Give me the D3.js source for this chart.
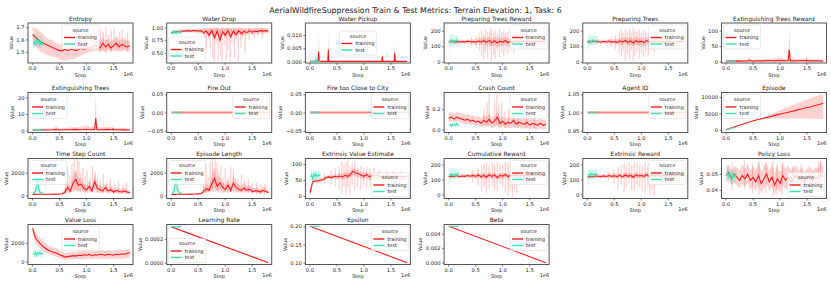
<!DOCTYPE html>
<meta charset="utf-8">
<script src="https://d3js.org/d3.v7.min.js"></script>
<style>
body { margin: 0; background: #fff; }
text { font-family: "DejaVu Sans", sans-serif; fill: #222; }
.tick line { stroke: #333; stroke-width: 0.6; }
</style>
<body>
<script>
// training steps (millions) shared by most panels
var steps = [0.01,0.06,0.11,0.16,0.21,0.26,0.31,0.36,0.41,0.46,0.51,0.56,0.61,0.66,0.71,0.76,0.81,0.86,0.91,0.96,1.01,1.06,1.11,1.16,1.21,1.26,1.31,1.36,1.41,1.46,1.51,1.56,1.61,1.66,1.71,1.76,1.81];
var testSteps = [0.02,0.04,0.06,0.08,0.10,0.12,0.14,0.16,0.18,0.20];
var fullSpan = [0.01, 1.81];
var testSpan = [0.02, 0.20];

// Entropy
var entropyMean = [1.64,1.62,1.60,1.58,1.57,1.56,1.55,1.54,1.53,1.52,1.51,1.51,1.52,1.51,1.52,1.52,1.51,1.52,1.53,1.52,1.53,1.53,1.54,1.55,1.55,1.53,1.57,1.54,1.56,1.53,1.55,1.57,1.54,1.56,1.55,1.54,1.55];
var entropyLo = [1.58,1.55,1.52,1.50,1.49,1.48,1.47,1.46,1.46,1.45,1.44,1.43,1.43,1.43,1.44,1.44,1.45,1.46,1.47,1.48,1.49,1.50,1.50,1.51,1.51,1.50,1.51,1.50,1.52,1.50,1.51,1.52,1.50,1.51,1.52,1.50,1.51];
var entropyHi = [1.70,1.69,1.68,1.66,1.64,1.62,1.60,1.60,1.58,1.57,1.56,1.57,1.58,1.57,1.58,1.59,1.58,1.59,1.60,1.61,1.60,1.61,1.60,1.60,1.61,1.59,1.62,1.59,1.61,1.58,1.60,1.62,1.59,1.61,1.60,1.59,1.60];
var entropyTest = [1.56,1.58,1.55,1.60,1.57,1.59,1.55,1.58,1.56,1.57];
var entropyTestLo = [1.53,1.54,1.52,1.55,1.53,1.55,1.52,1.54,1.53,1.54];
var entropyTestHi = [1.62,1.65,1.60,1.66,1.63,1.64,1.60,1.63,1.62,1.61];
var entropySpikeSteps = [1.27,1.32,1.37,1.42,1.47,1.52,1.57,1.62,1.67,1.72,1.77];
var entropySpikeLo = [1.50,1.51,1.49,1.52,1.50,1.51,1.50,1.52,1.50,1.51,1.50];
var entropySpikeHi = [1.68,1.66,1.70,1.64,1.67,1.69,1.63,1.66,1.68,1.62,1.65];

// Water Drop
var dropMean = [0.90,0.91,0.92,0.92,0.93,0.93,0.94,0.93,0.94,0.94,0.93,0.94,0.90,0.93,0.85,0.94,0.80,0.93,0.75,0.92,0.85,0.94,0.82,0.93,0.86,0.94,0.88,0.93,0.90,0.94,0.91,0.93,0.92,0.94,0.93,0.94,0.93];
var dropLo = [0.86,0.88,0.89,0.89,0.90,0.90,0.91,0.90,0.90,0.90,0.89,0.89,0.85,0.88,0.80,0.88,0.75,0.87,0.70,0.86,0.80,0.88,0.76,0.87,0.81,0.88,0.83,0.87,0.85,0.88,0.86,0.88,0.87,0.89,0.88,0.89,0.88];
var dropHi = [0.93,0.94,0.95,0.95,0.96,0.96,0.97,0.96,0.97,0.97,0.97,0.98,0.98,0.99,0.98,1.00,0.99,1.00,0.98,1.00,0.99,1.00,0.99,1.00,0.99,1.00,0.99,1.00,0.99,1.00,0.98,1.00,0.99,1.00,0.99,1.00,0.98];
var dropTest = [0.88,0.92,0.90,0.93,0.89,0.92,0.91,0.93,0.90,0.92];
var dropTestLo = [0.85,0.88,0.86,0.89,0.86,0.88,0.87,0.89,0.87,0.88];
var dropTestHi = [0.92,0.96,0.95,0.97,0.94,0.96,0.95,0.97,0.94,0.95];
var dropSpikeSteps = [0.62,0.66,0.70,0.73,0.78,0.81,0.84,0.88,0.92,0.95,0.99,1.03,1.06,1.10,1.13,1.18,1.21,1.25,1.30,1.33,1.38,1.45,1.50,1.55,1.62,1.70];
var dropSpikeLo = [0.75,0.55,0.80,0.60,0.40,0.33,0.70,0.35,0.45,0.33,0.65,0.35,0.55,0.33,0.70,0.40,0.75,0.33,0.60,0.80,0.50,0.75,0.85,0.80,0.85,0.80];
var dropSpikeHi = [0.97,0.98,0.97,0.99,0.98,0.97,0.99,0.98,0.97,0.99,0.98,0.97,0.99,0.98,0.97,0.99,0.98,0.97,0.99,0.98,0.97,0.99,0.98,0.97,0.99,0.98];

// Water Pickup (spiky, own steps)
var pickupSteps = [0.01,0.16,0.17,0.18,0.34,0.35,0.36,1.34,1.35,1.36,1.57,1.58,1.59,1.81];
var pickupMean = [0,0,0.0038,0,0,0.0045,0,0,0.0019,0,0,0.0033,0,0];
var pickupLo = [0,0,0,0,0,0,0,0,0,0,0,0,0,0];
var pickupHi = [0,0,0.0115,0,0,0.0128,0,0,0.0040,0,0,0.0080,0,0];
var pickupTestSteps = [0.02,0.10,0.11,0.12,0.13,0.20];
var pickupTest = [0,0,0.0006,0.0010,0,0];
var pickupTestLo = [0,0,0,0,0,0];
var pickupTestHi = [0,0,0.0035,0.0060,0,0];

// Preparing Trees Reward
var ptrMean = [128,132,126,130,128,131,127,133,129,130,126,134,128,136,125,138,122,135,120,133,126,137,124,130,128,135,127,132,129,134,128,131,130,133,129,132,130];
var ptrLo = [116,120,114,118,116,119,115,120,116,116,110,115,105,112,100,112,95,110,92,105,100,112,98,106,104,112,106,112,110,116,112,115,115,118,115,118,117];
var ptrHi = [140,144,138,142,140,143,139,146,142,145,145,155,152,160,150,165,150,160,150,162,152,162,150,155,152,158,148,152,148,152,145,147,145,148,144,146,144];
var ptrTest = [135,128,140,132,138,130,137,142,133,136];
var ptrTestLo = [40,100,95,110,105,100,112,115,110,115];
var ptrTestHi = [175,160,180,165,185,160,170,175,160,165];
var ptrSpikeSteps = [0.43,0.52,0.58,0.62,0.66,0.69,0.73,0.77,0.80,0.84,0.87,0.91,0.95,0.99,1.03,1.07,1.11,1.16,1.22,1.28,1.36,1.45];
var ptrSpikeLo = [100,90,70,40,15,60,25,80,10,45,20,70,30,55,35,65,50,75,60,85,95,105];
var ptrSpikeHi = [160,170,185,200,175,210,190,195,220,185,205,180,215,190,200,185,195,180,185,170,165,160];

// Preparing Trees
var ptMean = [130,127,133,129,131,126,132,128,134,127,131,125,135,128,137,124,134,121,136,127,133,123,138,126,131,129,134,126,131,128,133,129,131,128,132,130,131];
var ptLo = [118,115,121,117,119,114,120,116,120,112,115,108,115,105,118,100,110,98,112,102,110,100,115,105,110,110,115,110,115,113,118,115,117,115,118,117,118];
var ptHi = [142,139,145,141,143,138,144,140,148,142,148,145,155,152,160,150,160,145,162,152,158,148,162,150,155,150,155,145,150,145,148,144,145,142,146,143,144];
var ptTest = [138,130,136,128,140,133,135,131,137,134];
var ptTestLo = [60,95,100,105,110,100,110,112,108,112];
var ptTestHi = [180,165,185,160,175,165,170,168,165,160];
var ptSpikeSteps = [0.45,0.53,0.60,0.64,0.67,0.71,0.75,0.79,0.82,0.86,0.89,0.93,0.97,1.01,1.05,1.09,1.14,1.19,1.25,1.32,1.40];
var ptSpikeLo = [95,80,60,30,70,10,50,20,75,5,40,65,20,55,35,70,45,80,65,90,100];
var ptSpikeHi = [165,175,190,205,185,215,195,210,190,220,200,195,210,185,205,190,185,180,175,165,160];

// Extinguishing Trees Reward / Extinguishing Trees (own steps)
var extSteps = [0.01,0.10,0.20,0.30,0.40,0.45,0.50,0.60,0.70,0.80,0.90,1.00,1.10,1.16,1.18,1.20,1.30,1.40,1.49,1.50,1.51,1.60,1.70,1.81];
var etrMean = [1,1,2,1,2,3,1,2,2,3,2,3,2,3,38,2,2,3,2,5,2,2,2,1];
var etrLo = [0,0,0,0,0,0,0,0,0,0,0,0,0,0,5,0,0,0,0,0,0,0,0,0];
var etrHi = [4,3,5,4,6,12,5,6,7,8,9,14,8,10,112,9,7,9,8,16,7,6,6,4];
var etrTest = [0,1,1,2,1,2,1,2,1,1];
var etrTestLo = [0,0,0,0,0,0,0,0,0,0];
var etrTestHi = [2,4,5,8,6,7,5,6,4,3];
var etMean = [0.3,0.3,0.5,0.3,0.5,0.7,0.3,0.5,0.5,0.7,0.5,0.8,0.5,0.7,7.5,0.5,0.5,0.7,0.5,1.0,0.5,0.5,0.4,0.3];
var etLo = [0,0,0,0,0,0,0,0,0,0,0,0,0,0,1,0,0,0,0,0,0,0,0,0];
var etHi = [1.0,0.8,1.2,1.0,1.5,2.5,1.2,1.5,1.8,2.0,2.2,3.0,2.0,2.5,22,2.2,1.8,2.2,2.0,3.5,1.8,1.5,1.5,1.0];
var etTest = [0,0.2,0.3,0.5,0.3,0.5,0.3,0.4,0.3,0.2];
var etTestLo = [0,0,0,0,0,0,0,0,0,0];
var etTestHi = [0.5,1.0,1.2,1.8,1.3,1.5,1.2,1.3,1.0,0.8];

// flat metrics
var zeroLine = [0, 0];
var oneLine = [1, 1];

// Crash Count
var crashMean = [0.11,0.12,0.10,0.12,0.11,0.10,0.09,0.10,0.08,0.09,0.07,0.08,0.06,0.09,0.07,0.10,0.06,0.08,0.12,0.06,0.08,0.05,0.07,0.06,0.09,0.05,0.07,0.06,0.05,0.07,0.04,0.06,0.05,0.04,0.06,0.04,0.05];
var crashLo = [0.07,0.08,0.07,0.08,0.07,0.06,0.05,0.06,0.04,0.05,0.03,0.04,0.02,0.04,0.02,0.04,0.01,0.03,0.04,0.01,0.03,0.01,0.02,0.01,0.03,0.01,0.02,0.01,0.01,0.02,0.00,0.01,0.01,0.00,0.01,0.00,0.01];
var crashHi = [0.16,0.17,0.15,0.17,0.16,0.15,0.14,0.15,0.13,0.14,0.12,0.13,0.11,0.14,0.12,0.16,0.11,0.13,0.18,0.11,0.13,0.10,0.12,0.11,0.14,0.10,0.12,0.11,0.10,0.12,0.09,0.11,0.10,0.09,0.11,0.09,0.10];
var crashTest = [0.04,0.05,0.03,0.05,0.04,0.05,0.04,0.06,0.04,0.05];
var crashTestLo = [0.02,0.03,0.02,0.03,0.02,0.03,0.02,0.04,0.02,0.03];
var crashTestHi = [0.06,0.07,0.05,0.07,0.06,0.07,0.06,0.08,0.06,0.07];
var crashSpikeSteps = [0.66,0.72,0.76,0.86,0.90,0.94,0.99,1.05,1.12,1.22,1.30,1.45,1.60];
var crashSpikeLo = [0.03,0.04,0.03,0.03,0.04,0.02,0.03,0.02,0.02,0.02,0.02,0.01,0.01];
var crashSpikeHi = [0.20,0.26,0.35,0.28,0.35,0.24,0.26,0.18,0.20,0.22,0.15,0.16,0.14];

// Episode
var episodeSteps = [0.01,0.10,0.20,0.30,0.40,0.50,0.60,0.70,0.80,0.90,1.00,1.10,1.20,1.30,1.40,1.50,1.60,1.70,1.81];
var episodeMean = [0,550,1100,1650,2200,2700,3150,3550,3950,4350,4750,5150,5550,5950,6350,6750,7150,7600,8100];
var episodeLo = [0,500,1050,1600,2150,2650,3050,3300,3400,3450,3450,3500,3450,3500,3450,3500,3450,3400,3300];
var episodeHi = [0,600,1150,1700,2250,2750,3250,3800,4500,5200,5900,6600,7300,8000,8600,9200,9800,10400,11000];
var episodeTest = [50,150,240,330,420,500,580,660,740,820];
var episodeTestLo = [20,110,200,290,380,460,540,620,700,780];
var episodeTestHi = [80,190,280,370,460,540,620,700,780,860];

// Time Step Count
var tscMean = [80,90,100,100,110,100,110,100,120,110,130,150,300,700,400,1100,1400,900,1000,600,500,800,400,1200,600,500,400,700,400,500,300,450,350,300,400,300,250];
var tscLo = [50,60,70,70,80,70,80,70,80,80,90,100,150,300,200,500,700,400,500,300,250,400,200,600,300,250,200,350,200,250,150,220,170,150,200,150,120];
var tscHi = [120,130,140,140,150,140,150,140,170,160,200,250,600,1200,700,1800,2200,1500,1600,1000,900,1300,700,1900,1000,900,700,1100,700,900,550,750,600,500,700,500,420];
var tscTest = [200,250,300,800,1300,600,300,250,200,200];
var tscTestLo = [100,100,150,300,600,200,150,100,100,100];
var tscTestHi = [400,500,600,1500,2000,1200,600,500,400,400];
var tscSpikeSteps = [0.62,0.66,0.70,0.74,0.78,0.81,0.84,0.87,0.90,0.94,0.98,1.02,1.07,1.12,1.17,1.21,1.26,1.32,1.38,1.45,1.52,1.60,1.68,1.75];
var tscSpikeLo = [150,200,200,250,300,400,300,300,250,250,200,250,200,300,250,200,200,250,150,200,150,150,150,120];
var tscSpikeHi = [1500,2500,1800,2800,3300,2200,3300,3000,2000,2400,1700,2200,1500,2600,2100,1600,1300,1900,1200,1500,1000,1300,900,1100];

// Episode Length
var elMean = [80,95,100,105,100,110,100,115,110,120,140,160,350,600,450,1000,1500,800,1100,700,500,900,450,1100,700,550,450,650,450,550,350,400,400,300,450,350,250];
var elLo = [50,60,70,70,70,80,70,80,80,80,90,100,200,300,250,500,700,400,550,350,250,450,250,550,350,300,250,350,250,300,200,220,220,150,250,200,120];
var elHi = [120,130,140,140,140,150,140,160,160,170,220,280,700,1100,800,1700,2400,1400,1700,1200,900,1500,800,1800,1200,950,800,1100,800,950,650,700,700,550,800,650,420];
var elTest = [150,250,400,900,1200,700,350,250,200,180];
var elTestLo = [80,100,150,300,500,250,150,100,100,80];
var elTestHi = [350,500,800,1600,2000,1300,700,500,400,350];
var elSpikeSteps = [0.61,0.65,0.69,0.73,0.77,0.80,0.83,0.86,0.89,0.93,0.97,1.01,1.06,1.11,1.16,1.20,1.25,1.31,1.37,1.44,1.51,1.59,1.67,1.74];
var elSpikeLo = [150,200,250,250,300,400,350,300,250,250,200,250,200,300,250,200,200,250,150,200,150,150,150,120];
var elSpikeHi = [1700,2800,1600,3000,3300,2400,3300,2800,2200,2600,1600,2400,1400,2500,2300,1500,1400,1800,1300,1400,1100,1200,1000,1000];

// Extrinsic Value Estimate
var eveMean = [10,45,48,47,50,52,58,60,58,62,60,63,60,65,62,68,78,72,70,65,62,68,60,65,62,66,60,63,62,64,60,62,63,61,62,60,62];
var eveLo = [0,35,42,40,44,46,52,54,52,55,52,55,50,55,52,58,65,60,58,55,52,58,50,55,52,56,50,53,52,54,50,52,53,51,52,50,52];
var eveHi = [20,55,55,54,56,58,64,66,64,69,68,71,70,75,72,78,90,84,82,75,72,78,70,75,72,76,70,73,72,74,70,72,73,71,72,70,72];
var eveTest = [60,65,55,68,62,70,60,66,63,68];
var eveTestLo = [40,50,20,55,45,55,45,50,50,55];
var eveTestHi = [75,80,72,85,78,82,75,80,78,80];
var eveSpikeSteps = [0.28,0.40,0.48,0.55,0.60,0.64,0.68,0.71,0.75,0.79,0.84,0.89,0.95,1.00,1.06,1.12,1.20,1.30,1.42,1.55,1.70];
var eveSpikeLo = [40,35,30,20,10,30,5,25,0,35,15,30,20,35,25,30,35,40,38,40,42];
var eveSpikeHi = [75,80,85,95,110,100,105,112,95,100,108,90,95,88,92,85,88,82,80,78,80];

// Cumulative Reward
var crMean = [118,122,120,125,119,123,121,126,122,127,120,130,118,128,115,132,120,130,112,128,122,134,118,130,125,132,120,128,124,130,126,129,125,131,127,130,128];
var crLo = [106,110,108,113,107,111,109,114,108,112,104,114,100,110,96,114,102,112,94,110,104,116,100,112,108,115,104,112,108,115,112,115,112,118,115,118,116];
var crHi = [130,134,132,137,131,135,133,138,136,142,136,146,136,146,134,150,138,148,130,146,140,152,136,148,142,149,136,144,140,145,140,143,138,144,139,142,140];
var crTest = [132,128,138,130,135,127,140,133,136,138];
var crTestLo = [30,90,100,110,105,100,112,115,110,115];
var crTestHi = [165,160,170,165,175,160,165,170,160,165];
var crSpikeSteps = [0.45,0.55,0.62,0.67,0.71,0.76,0.82,0.86,0.91,0.96,1.01,1.06,1.11,1.15,1.19,1.23,1.27,1.33,1.40,1.48,1.56];
var crSpikeLo = [80,60,20,50,10,40,60,30,20,70,50,10,-10,30,-15,40,10,70,80,90,95];
var crSpikeHi = [160,175,190,200,210,195,215,200,220,205,200,215,210,200,205,195,190,185,180,170,165];

// Extrinsic Reward
var erMean = [116,120,118,123,121,119,124,120,126,121,125,119,128,117,130,121,127,115,131,123,126,120,133,119,129,124,131,122,127,125,129,124,128,126,130,127,129];
var erLo = [104,108,106,111,109,107,112,108,112,108,110,104,112,102,114,106,110,100,114,108,110,104,116,102,112,108,114,106,112,110,114,110,114,112,116,114,116];
var erHi = [128,132,130,135,133,131,136,132,140,136,142,136,146,134,148,138,146,132,150,140,144,138,152,136,148,140,148,138,142,140,144,138,142,140,144,140,142];
var erTest = [130,135,128,140,133,136,131,138,134,137];
var erTestLo = [30,95,100,108,105,110,100,112,108,110];
var erTestHi = [165,170,160,175,165,170,160,170,165,168];
var erSpikeSteps = [0.40,0.50,0.58,0.64,0.69,0.73,0.78,0.83,0.88,0.93,0.98,1.03,1.08,1.13,1.17,1.21,1.25,1.30,1.37,1.45,1.53,1.62];
var erSpikeLo = [90,75,30,60,15,50,70,35,25,65,45,20,5,40,0,30,-10,60,80,90,100,105];
var erSpikeHi = [155,165,185,200,205,190,215,195,220,210,200,190,215,200,195,190,185,180,175,165,160,155];

// Policy Loss
var plMean = [0.049,0.051,0.047,0.050,0.048,0.046,0.049,0.047,0.050,0.046,0.048,0.045,0.049,0.044,0.047,0.050,0.045,0.048,0.043,0.047,0.044,0.049,0.046,0.048,0.045,0.047,0.049,0.046,0.048,0.045,0.047,0.049,0.046,0.048,0.047,0.050,0.048];
var plLo = [0.045,0.046,0.043,0.045,0.043,0.041,0.044,0.042,0.045,0.040,0.043,0.039,0.043,0.038,0.041,0.044,0.039,0.042,0.037,0.041,0.038,0.043,0.040,0.042,0.040,0.042,0.044,0.041,0.043,0.040,0.042,0.044,0.041,0.043,0.042,0.045,0.043];
var plHi = [0.054,0.056,0.052,0.055,0.054,0.052,0.056,0.053,0.057,0.052,0.055,0.052,0.058,0.051,0.055,0.057,0.052,0.056,0.050,0.055,0.051,0.057,0.053,0.055,0.052,0.054,0.056,0.052,0.054,0.051,0.053,0.055,0.052,0.054,0.053,0.058,0.054];
var plTest = [0.049,0.051,0.048,0.050,0.049,0.047,0.050,0.048,0.049,0.050];
var plTestLo = [0.045,0.047,0.044,0.046,0.045,0.043,0.046,0.044,0.045,0.046];
var plTestHi = [0.054,0.056,0.052,0.055,0.053,0.051,0.054,0.052,0.053,0.054];
var plSpikeSteps = [0.12,0.35,0.50,0.62,0.75,0.88,0.95,1.05,1.25,1.40,1.72,1.76];
var plSpikeLo = [0.040,0.040,0.038,0.037,0.038,0.036,0.037,0.037,0.040,0.041,0.043,0.042];
var plSpikeHi = [0.057,0.058,0.056,0.058,0.057,0.058,0.056,0.057,0.055,0.056,0.058,0.058];

// Value Loss
var vlMean = [3600,2600,2200,1900,1600,1400,1200,1100,1000,900,750,650,500,550,600,650,600,700,650,750,700,800,650,750,700,800,750,700,800,750,700,800,750,850,800,900,1000];
var vlLo = [3200,2000,1700,1400,1100,900,800,700,600,500,400,300,200,250,250,300,250,300,250,300,300,350,250,300,300,350,300,300,350,300,300,350,300,350,350,400,450];
var vlHi = [3900,3200,2800,2500,2200,1900,1700,1600,1500,1400,1200,1100,900,1000,1050,1100,1000,1150,1100,1200,1150,1250,1100,1200,1150,1250,1200,1150,1250,1200,1150,1250,1200,1300,1250,1350,1400];
var vlTest = [900,800,1000,700,950,850,1000,800,900,850];
var vlTestLo = [500,400,500,400,450,500,550,450,500,450];
var vlTestHi = [1300,1200,1400,1100,1350,1250,1400,1200,1300,1200];

// schedules
var lrTrain = [0.0003, 0.0];
var lrTest = [0.0003, 0.0003];
var epsTrain = [0.2, 0.1];
var epsTest = [0.2, 0.2];
var betaTrain = [0.005, 0.0];
var betaTest = [0.005, 0.005];

var titles = ["Entropy","Water Drop","Water Pickup","Preparing Trees Reward","Preparing Trees","Extinguishing Trees Reward",
  "Extinguishing Trees","Fire Out","Fire too Close to City","Crash Count","Agent ID","Episode",
  "Time Step Count","Episode Length","Extrinsic Value Estimate","Cumulative Reward","Extrinsic Reward","Policy Loss",
  "Value Loss","Learning Rate","Epsilon","Beta"];

function rows(xs, m, lo, hi) {
  return xs.map(function(s, i) { return {s: s, m: m[i], lo: (lo || m)[i], hi: (hi || m)[i]}; });
}
function spikes(xs, lo, hi) {
  return xs.map(function(s, i) { return {s: s, lo: lo[i], hi: hi[i]}; });
}
var minus = function(f) { return function(d) { return f(d).replace("-", "\u2212"); }; };

var panels = [
  {tr: rows(steps, entropyMean, entropyLo, entropyHi), te: rows(testSteps, entropyTest, entropyTestLo, entropyTestHi), sp: spikes(entropySpikeSteps, entropySpikeLo, entropySpikeHi), dom: [1.41, 1.733], ticks: [1.5, 1.6, 1.7], fmt: ".1f", leg: "upper center"},
  {tr: rows(steps, dropMean, dropLo, dropHi), te: rows(testSteps, dropTest, dropTestLo, dropTestHi), sp: spikes(dropSpikeSteps, dropSpikeLo, dropSpikeHi), dom: [0.30, 1.09], ticks: [0.5, 0.75, 1.0], fmt: ".2f", leg: "lower left"},
  {tr: rows(pickupSteps, pickupMean, pickupLo, pickupHi), te: rows(pickupTestSteps, pickupTest, pickupTestLo, pickupTestHi), dom: [-0.0006, 0.0146], ticks: [0, 0.005, 0.01], fmt: ".3f", leg: "center"},
  {tr: rows(steps, ptrMean, ptrLo, ptrHi), te: rows(testSteps, ptrTest, ptrTestLo, ptrTestHi), sp: spikes(ptrSpikeSteps, ptrSpikeLo, ptrSpikeHi), dom: [-8, 250], ticks: [0, 100, 200], fmt: "d", leg: "upper right"},
  {tr: rows(steps, ptMean, ptLo, ptHi), te: rows(testSteps, ptTest, ptTestLo, ptTestHi), sp: spikes(ptSpikeSteps, ptSpikeLo, ptSpikeHi), dom: [-8, 250], ticks: [0, 100, 200], fmt: "d", leg: "upper right"},
  {tr: rows(extSteps, etrMean, etrLo, etrHi), te: rows(testSteps, etrTest, etrTestLo, etrTestHi), dom: [-5, 125], ticks: [0, 50, 100], fmt: "d", leg: "upper left"},
  {tr: rows(extSteps, etMean, etLo, etHi), te: rows(testSteps, etTest, etTestLo, etTestHi), dom: [-1.2, 23], ticks: [0, 10, 20], fmt: "d", leg: "upper left"},
  {tr: rows(fullSpan, zeroLine), te: rows(testSpan, zeroLine), dom: [-0.055, 0.055], ticks: [-0.05, 0, 0.05], fmt: ".2f", leg: "upper right", flat: true},
  {tr: rows(fullSpan, zeroLine), te: rows(testSpan, zeroLine), dom: [-0.055, 0.055], ticks: [-0.05, 0, 0.05], fmt: ".2f", leg: "upper right", flat: true},
  {tr: rows(steps, crashMean, crashLo, crashHi), te: rows(testSteps, crashTest, crashTestLo, crashTestHi), sp: spikes(crashSpikeSteps, crashSpikeLo, crashSpikeHi), dom: [-0.03, 0.36], ticks: [0, 0.2], fmt: ".1f", leg: "upper right"},
  {tr: rows(fullSpan, oneLine), te: rows(testSpan, oneLine), dom: [0.945, 1.055], ticks: [0.95, 1.0, 1.05], fmt: ".2f", leg: "upper right", flat: true},
  {tr: rows(episodeSteps, episodeMean, episodeLo, episodeHi), te: rows(testSteps, episodeTest, episodeTestLo, episodeTestHi), dom: [-800, 11400], ticks: [0, 5000, 10000], fmt: "d", leg: "upper left"},
  {tr: rows(steps, tscMean, tscLo, tscHi), te: rows(testSteps, tscTest, tscTestLo, tscTestHi), sp: spikes(tscSpikeSteps, tscSpikeLo, tscSpikeHi), dom: [-270, 3250], ticks: [0, 2000], fmt: "d", leg: "upper left"},
  {tr: rows(steps, elMean, elLo, elHi), te: rows(testSteps, elTest, elTestLo, elTestHi), sp: spikes(elSpikeSteps, elSpikeLo, elSpikeHi), dom: [-270, 3250], ticks: [0, 2000], fmt: "d", leg: "upper left"},
  {tr: rows(steps, eveMean, eveLo, eveHi), te: rows(testSteps, eveTest, eveTestLo, eveTestHi), sp: spikes(eveSpikeSteps, eveSpikeLo, eveSpikeHi), dom: [-8, 118], ticks: [0, 50, 100], fmt: "d", leg: "lower right"},
  {tr: rows(steps, crMean, crLo, crHi), te: rows(testSteps, crTest, crTestLo, crTestHi), sp: spikes(crSpikeSteps, crSpikeLo, crSpikeHi), dom: [-27, 240], ticks: [0, 100, 200], fmt: "d", leg: "upper right"},
  {tr: rows(steps, erMean, erLo, erHi), te: rows(testSteps, erTest, erTestLo, erTestHi), sp: spikes(erSpikeSteps, erSpikeLo, erSpikeHi), dom: [-27, 240], ticks: [0, 100, 200], fmt: "d", leg: "upper right"},
  {tr: rows(steps, plMean, plLo, plHi), te: rows(testSteps, plTest, plTestLo, plTestHi), sp: spikes(plSpikeSteps, plSpikeLo, plSpikeHi), dom: [0.0347, 0.0596], ticks: [0.04, 0.05], fmt: ".2f", leg: "lower right"},
  {tr: rows(steps, vlMean, vlLo, vlHi), te: rows(testSteps, vlTest, vlTestLo, vlTestHi), dom: [-300, 4000], ticks: [0, 2000], fmt: "d", leg: "upper center"},
  {tr: rows(fullSpan, lrTrain), te: rows(testSpan, lrTest), dom: [-0.000015, 0.00032], ticks: [0, 0.0002], fmt: ".4f", leg: "lower left"},
  {tr: rows(fullSpan, epsTrain), te: rows(testSpan, epsTest), dom: [0.095, 0.205], ticks: [0.10, 0.15, 0.20], fmt: ".2f", leg: "upper right"},
  {tr: rows(fullSpan, betaTrain), te: rows(testSpan, betaTest), dom: [-0.00025, 0.00525], ticks: [0, 0.002, 0.004], fmt: ".3f", leg: "upper right"}
];

var W = 105, H = 40;
var colX = [28, 166.7, 305.4, 444.1, 582.8, 721.5];
var rowY = [23, 92.5, 158.5, 224.5];
var red = "#ff1a1a", teal = "#38e2b6";

var svg = d3.select("body").append("svg")
    .attr("width", 831)
    .attr("height", 283)
    .style("background", "#fff");

// fit the suptitle to the width it takes in the picture
var sup = svg.append("text")
    .attr("x", 415.5)
    .attr("y", 12.5)
    .attr("text-anchor", "middle")
    .style("font-size", "8px")
    .text("AerialWildfireSuppression Train & Test Metrics: Terrain Elevation: 1, Task: 6");
sup.style("font-size", (8 * 293 / sup.node().getComputedTextLength()) + "px");

// calibrate subplot title size on the widest one
var probe = svg.append("text").style("font-size", "6px").text("Extinguishing Trees Reward");
var titleSize = 6 * 82 / probe.node().getComputedTextLength();
probe.remove();

var defs = svg.append("defs");

panels.forEach(function(p, i) {
  var g = svg.append("g")
      .attr("transform", "translate(" + colX[i % 6] + "," + rowY[Math.floor(i / 6)] + ")");
  var x = d3.scaleLinear().domain([-0.075, 1.87]).range([0, W]);
  var y = d3.scaleLinear().domain(p.dom).range([H, 0]);

  defs.append("clipPath").attr("id", "c" + i)
    .append("rect").attr("width", W).attr("height", H);
  var plot = g.append("g").attr("clip-path", "url(#c" + i + ")");

  var area = d3.area().x(function(d) { return x(d.s); })
      .y0(function(d) { return y(d.lo); }).y1(function(d) { return y(d.hi); });
  var line = d3.line().x(function(d) { return x(d.s); }).y(function(d) { return y(d.m); });

  if (!p.flat) {
    plot.append("path").attr("d", area(p.tr)).attr("fill", red).attr("fill-opacity", 0.2);
  }
  if (p.sp) {
    plot.selectAll(".spike").data(p.sp).enter().append("line")
        .attr("x1", function(d) { return x(d.s); }).attr("x2", function(d) { return x(d.s); })
        .attr("y1", function(d) { return y(d.lo); }).attr("y2", function(d) { return y(d.hi); })
        .attr("stroke", red).attr("stroke-opacity", 0.2).attr("stroke-width", 1.3);
  }
  plot.append("path").attr("d", line(p.tr))
      .attr("fill", "none").attr("stroke", red)
      .attr("stroke-width", p.flat ? 1.8 : 1.1)
      .attr("stroke-opacity", p.flat ? 0.55 : 1);
  if (!p.flat) {
    plot.append("path").attr("d", area(p.te)).attr("fill", teal).attr("fill-opacity", 0.25);
  }
  plot.append("path").attr("d", line(p.te))
      .attr("fill", "none").attr("stroke", teal)
      .attr("stroke-width", p.flat ? 1.8 : 1.1)
      .attr("stroke-opacity", p.flat ? 0.6 : 1);

  g.append("rect").attr("width", W).attr("height", H)
      .attr("fill", "none").attr("stroke", "#555").attr("stroke-width", 1);

  var xa = g.append("g").attr("transform", "translate(0," + H + ")")
      .call(d3.axisBottom(x).tickValues([0, 0.5, 1, 1.5]).tickFormat(d3.format(".1f")).tickSize(2).tickPadding(1.5));
  var ya = g.append("g")
      .call(d3.axisLeft(y).tickValues(p.ticks).tickFormat(minus(d3.format(p.fmt))).tickSize(2).tickPadding(1.5));
  [xa, ya].forEach(function(a) {
    a.select(".domain").remove();
    a.selectAll("text").style("font-size", "5.2px").attr("fill", "#222");
  });

  var yw = ya.node().getBBox().width;
  g.append("text").attr("transform", "translate(" + (-yw - 3.5) + "," + (H / 2) + ") rotate(-90)")
      .attr("text-anchor", "middle").style("font-size", "5px").text("Value");
  g.append("text").attr("x", W / 2).attr("y", H + 13.5).attr("text-anchor", "middle")
      .style("font-size", "5px").text("Step");
  g.append("text").attr("x", W).attr("y", H + 12.5).attr("text-anchor", "end")
      .style("font-size", "5px").text("1e6");
  g.append("text").attr("x", W / 2).attr("y", -2.5).attr("text-anchor", "middle")
      .style("font-size", titleSize + "px").text(titles[i]);

  // legend
  var lw = 37, lh = 24;
  var lx = p.leg.indexOf("left") >= 0 ? 2 : p.leg.indexOf("right") >= 0 ? W - lw - 2 : (W - lw) / 2;
  var ly = p.leg.indexOf("upper") >= 0 ? 2 : p.leg.indexOf("lower") >= 0 ? H - lh - 2 : (H - lh) / 2;
  var lg = g.append("g").attr("transform", "translate(" + lx + "," + ly + ")");
  lg.append("rect").attr("width", lw).attr("height", lh).attr("rx", 1.5)
      .attr("fill", "#fff").attr("fill-opacity", 0.8).attr("stroke", "#d6d6d6").attr("stroke-width", 0.5);
  lg.append("text").attr("x", lw / 2).attr("y", 6.5).attr("text-anchor", "middle")
      .style("font-size", "4.9px").text("source");
  [["training", red], ["test", teal]].forEach(function(e, k) {
    var yy = 12.5 + k * 6.5;
    lg.append("rect").attr("x", 2).attr("y", yy - 0.7).attr("width", 11).attr("height", 1.4)
        .attr("fill", e[1]);
    lg.append("text").attr("x", 16).attr("y", yy + 1.8).style("font-size", "4.9px").text(e[0]);
  });
});
</script>
</body>
